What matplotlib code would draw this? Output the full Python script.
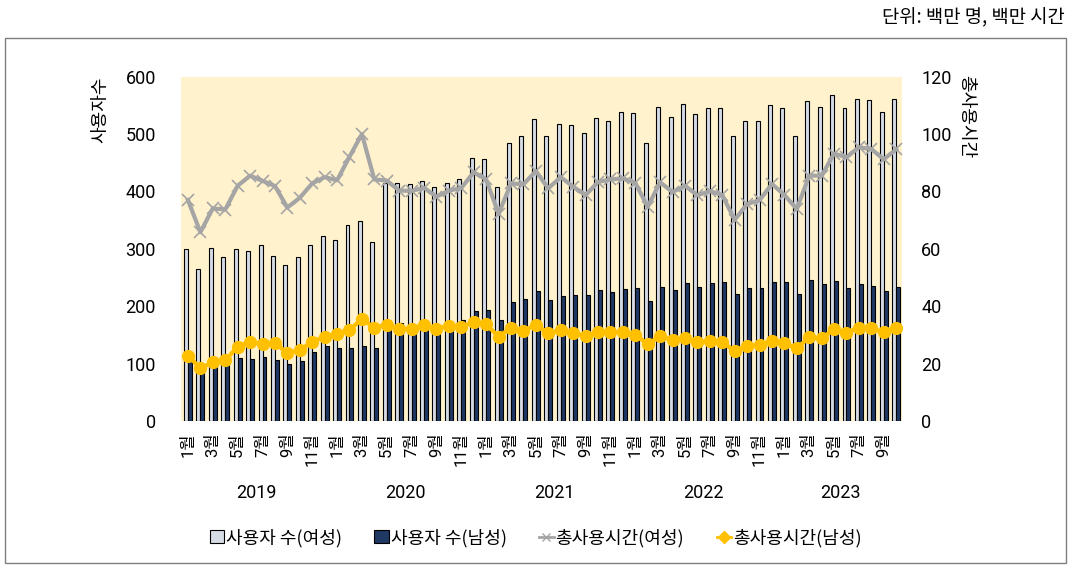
import numpy as np
import matplotlib
matplotlib.use("Agg")
import matplotlib.pyplot as plt
from matplotlib.lines import Line2D
from matplotlib.patches import Patch, Rectangle

plt.rcParams['font.family'] = ['Roboto', 'Noto Sans CJK KR', 'DejaVu Sans']
kr = ['Noto Sans CJK KR', 'DejaVu Sans']

years = [2019, 2020, 2021, 2022, 2023]
months = [m for y in years for m in range(1, 13)][:58]

# 사용자 수 (백만 명)
users_f = [300, 265, 302, 286, 299, 296, 306, 288, 271, 285, 306, 322,
           315, 342, 349, 312, 414, 414, 413, 419, 408, 415, 421, 458,
           457, 407, 485, 497, 527, 496, 517, 515, 502, 528, 522, 539,
           537, 485, 548, 530, 553, 535, 546, 545, 497, 522, 522, 551,
           546, 496, 557, 547, 569, 546, 562, 560, 538, 561]
users_m = [105, 86, 95, 99, 109, 108, 112, 106, 100, 105, 120, 131,
           128, 128, 130, 128, 160, 171, 167, 160, 154, 160, 176, 191,
           193, 176, 208, 212, 227, 211, 218, 220, 219, 229, 225, 230,
           231, 209, 234, 228, 241, 234, 241, 242, 221, 231, 231, 243,
           242, 221, 246, 238, 244, 231, 238, 235, 227, 234]
# 총사용시간 (백만 시간)
hours_f = [77.0, 65.8, 74.1, 73.7, 82.0, 85.5, 83.7, 81.9, 74.4, 77.8, 82.8, 85.0,
           83.9, 92.1, 100.0, 84.2, 83.8, 80.3, 80.2, 81.3, 78.2, 80.3, 81.2, 86.7,
           84.2, 72.2, 82.8, 82.5, 87.1, 81.1, 85.0, 81.7, 78.7, 83.3, 84.2, 84.6,
           83.0, 74.7, 83.2, 79.8, 82.0, 78.7, 80.1, 78.8, 70.1, 75.6, 77.0, 82.6,
           78.8, 73.9, 85.5, 85.5, 93.2, 91.9, 95.4, 94.8, 91.2, 94.7]
hours_m = [22.8, 18.4, 20.4, 21.1, 25.9, 27.6, 26.9, 27.3, 23.6, 24.7, 27.6, 29.4,
           30.2, 31.7, 35.6, 32.5, 33.5, 32.0, 32.2, 33.5, 32.2, 33.2, 32.9, 34.4,
           33.7, 29.4, 32.5, 31.4, 33.5, 30.6, 31.7, 30.6, 29.7, 30.9, 31.1, 30.9,
           30.0, 26.8, 29.6, 28.2, 28.8, 27.4, 28.0, 27.4, 24.5, 26.2, 26.5, 27.9,
           27.1, 25.3, 29.2, 28.8, 32.0, 30.8, 32.5, 32.3, 30.9, 32.3]

c_f_bar = '#D6DCE5'
c_m_bar = '#1F3864'
c_f_line = '#A5A5A5'
c_m_line = '#FFC000'

x = np.arange(len(months))

fig = plt.figure(figsize=(10.71, 5.65), dpi=100)
fig.patches.append(Rectangle((0.005, 0.003), 0.99, 0.929, transform=fig.transFigure,
                             fill=False, edgecolor='#7F7F7F', linewidth=1))
ax = fig.add_axes([0.169, 0.2549, 0.673, 0.6093])
ax.set_facecolor('#FFF2CC')
w = 0.32
ax.bar(x - w / 2, users_f, width=w, color=c_f_bar, edgecolor='black', linewidth=0.8, zorder=2)
ax.bar(x + w / 2, users_m, width=w, color=c_m_bar, edgecolor='black', linewidth=0.8, zorder=2)
ax.set_ylim(0, 600)
ax.set_yticks(range(0, 601, 100))
ax.set_xlim(-0.56, 57.45)
tick_idx = [i for i in x if months[i] % 2 == 1]
ax.set_xticks(tick_idx)
ax.set_xticklabels([f'{months[i]}월' for i in tick_idx], rotation=90, fontsize=12)
ax.tick_params(axis='x', length=0, pad=8)
ax.tick_params(axis='y', length=0, pad=18, labelsize=13)
for s in ax.spines.values():
    s.set_visible(False)

ax2 = ax.twinx()
ax2.plot(x, hours_f, color=c_f_line, linewidth=3, marker='x', markersize=8,
         markeredgewidth=1.2, zorder=3)
ax2.plot(x, hours_m, color=c_m_line, linewidth=3, marker='o', markersize=8.5, zorder=4)
ax2.set_ylim(0, 120)
ax2.set_yticks(range(0, 121, 20))
ax2.tick_params(axis='y', length=0, pad=14, labelsize=13)
for s in ax2.spines.values():
    s.set_visible(False)

# 연도 라벨
for k, yr in enumerate(years):
    idx = [i for i in x if i // 12 == k]
    ax.text(np.mean(idx), -0.21, str(yr), transform=ax.get_xaxis_transform(),
            ha='center', va='center', fontsize=13)

fig.text(0.094, 0.865, '사용자수', rotation=90, ha='center', va='top', fontsize=13, family=kr)
fig.text(0.902, 0.867, '총사용시간', rotation=270, ha='center', va='top', fontsize=13, family=kr)
fig.text(0.994, 0.968, '단위: 백만 명, 백만 시간', ha='right', va='center', fontsize=13.5, family=kr)

handles = [Patch(facecolor=c_f_bar, edgecolor='black', linewidth=0.8),
           Patch(facecolor=c_m_bar, edgecolor='black', linewidth=0.8),
           Line2D([], [], color=c_f_line, linewidth=2, marker='x', markersize=6),
           Line2D([], [], color=c_m_line, linewidth=2, marker='D', markersize=6)]
labels = ['사용자 수(여성)', '사용자 수(남성)', '총사용시간(여성)', '총사용시간(남성)']
fig.legend(handles, labels, loc='center', bbox_to_anchor=(0.5, 0.048), ncol=4,
           frameon=False, prop={'family': kr, 'size': 13}, handlelength=0.8,
           handletextpad=0.1, columnspacing=1.8)

fig.savefig('out.png', dpi=100)
